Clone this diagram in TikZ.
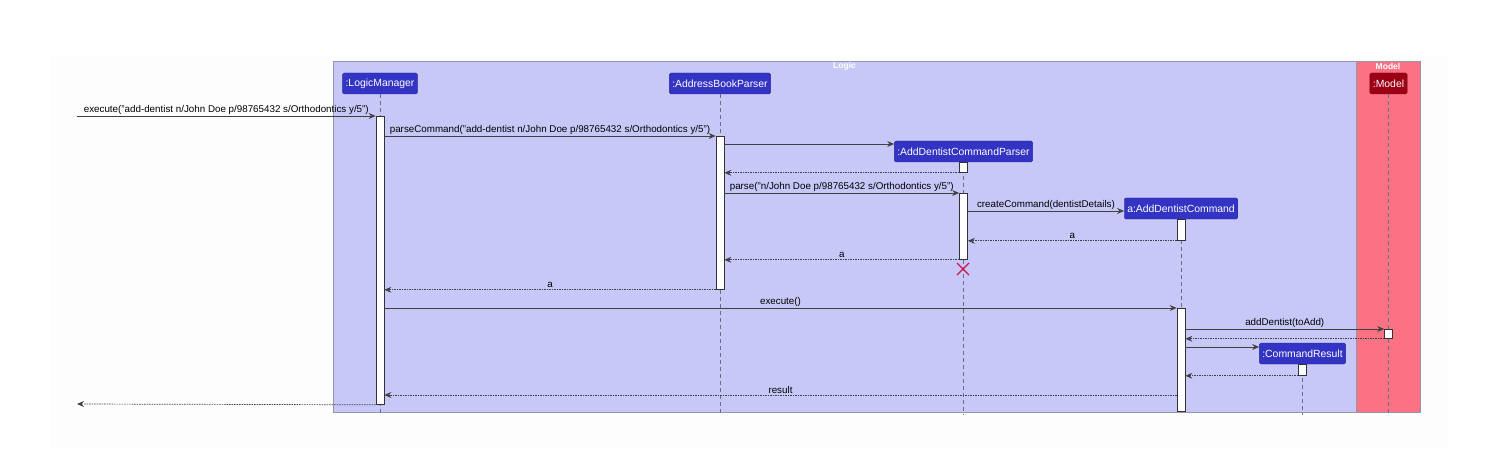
\documentclass[tikz,border=0pt]{standalone}
\usepackage{fontspec}
\setmainfont{Liberation Sans}
\usetikzlibrary{arrows.meta,positioning}

\definecolor{logicbg}{RGB}{200,200,248}
\definecolor{modelbg}{RGB}{250,114,132}
\definecolor{partblue}{RGB}{51,51,196}
\definecolor{partred}{RGB}{155,0,20}
\definecolor{framegray}{RGB}{150,150,165}
\definecolor{lifegray}{RGB}{110,110,130}
\definecolor{destroyred}{RGB}{200,20,80}

\begin{document}
\begin{tikzpicture}[x=1pt,y=-1pt,
    part/.style={fill=partblue,draw=partblue!80!black,rounded corners=1.5pt,text=white,
        font=\fontsize{10.4}{11}\selectfont,inner xsep=3pt,inner ysep=0pt,minimum height=21pt},
    actbar/.style={draw=black!80,fill=white,minimum width=8pt,inner sep=0pt,anchor=north,line width=0.8pt},
    lifeline/.style={draw=lifegray,dash pattern=on 4pt off 3pt,line width=0.5pt},
    call/.style={draw=black!75,-{Stealth[length=7pt,width=6pt,inset=2.5pt]},line width=0.7pt},
    reply/.style={call,dash pattern=on 1.5pt off 1pt},
    lbl/.style={font=\fontsize{9.8}{10}\selectfont,inner sep=1.5pt,above}]

    \useasboundingbox (0,0) rectangle (1501,449);
    \fill[black!0.7] (50,57) rectangle (1448,447);

    % boxes
    \draw[draw=framegray,fill=logicbg] (333,61) rectangle (1356,412);
    \draw[draw=framegray,fill=modelbg] (1356,61) rectangle (1420,412);
    \node[text=white,font=\bfseries\fontsize{8.5}{9}\selectfont] (logicTitle) at (844.5,66.5) {Logic};
    \node[text=white,font=\bfseries\fontsize{8.5}{9}\selectfont] (modelTitle) at (1388,66.5) {Model};

    % participants
    \node[part] (lm) at (380,83.5) {:LogicManager};
    \node[part] (abp) at (720,83.5) {:AddressBookParser};
    \node[part,fill=partred,draw=partred!80!black] (model) at (1388.5,83.5) {:Model};
    \node[part] (adcp) at (963.5,151.5) {:AddDentistCommandParser};
    \node[part] (adc) at (1181,208.5) {a:AddDentistCommand};
    \node[part] (cr) at (1302.5,353.5) {:CommandResult};

    \foreach \p in {lm,abp,model,adcp,adc,cr}
        \draw[lifeline] (\p.south) -- (\p.south |- 0,415);

    % activations
    \node[actbar,minimum height=288pt] (lmAct) at (380,116) {};
    \node[actbar,minimum height=153pt] (abpAct) at (720,136) {};
    \node[actbar,minimum height=10pt] (adcpAct1) at (963.5,162) {};
    \node[actbar,minimum height=66pt] (adcpAct2) at (963.5,193) {};
    \node[actbar,minimum height=21pt] (adcAct1) at (1181,219) {};
    \node[actbar,minimum height=103pt] (adcAct2) at (1181,308) {};
    \node[actbar,minimum height=9pt] (modelAct) at (1388.5,329) {};
    \node[actbar,minimum height=11pt] (crAct) at (1302.5,364) {};

    \coordinate (entry) at (77,116);
    \coordinate (exit) at (77,404);

    % messages
    \draw[call] (entry) -- node[lbl] {execute("add-dentist n/John Doe p/98765432 s/Orthodontics y/5")} (lmAct.north west);
    \draw[call] (lmAct.east |- 0,136) -- node[lbl] {parseCommand("add-dentist n/John Doe p/98765432 s/Orthodontics y/5")} (abpAct.north west);
    \draw[call] (abpAct.east |- 0,144) -- (adcp.west |- 0,144);
    \draw[reply] (adcpAct1.south west) -- (abpAct.east |- adcpAct1.south);
    \draw[call] (abpAct.east |- 0,193) -- node[lbl] {parse("n/John Doe p/98765432 s/Orthodontics y/5")} (adcpAct2.north west);
    \draw[call] (adcpAct2.east |- 0,211) -- node[lbl] {createCommand(dentistDetails)} (adc.west |- 0,211);
    \draw[reply] (adcAct1.south west) -- node[lbl] {a} (adcpAct2.east |- adcAct1.south);
    \draw[reply] (adcpAct2.south west) -- node[lbl] {a} (abpAct.east |- adcpAct2.south);
    \draw[reply] (abpAct.south west) -- node[lbl] {a} (lmAct.east |- abpAct.south);
    \draw[call] (lmAct.east |- 0,308) -- node[lbl] {execute()} (adcAct2.north west);
    \draw[call] (adcAct2.east |- 0,329) -- node[lbl] {addDentist(toAdd)} (modelAct.north west);
    \draw[reply] (modelAct.south west) -- (adcAct2.east |- modelAct.south);
    \draw[call] (adcAct2.east |- 0,347) -- (cr.west |- 0,347);
    \draw[reply] (crAct.south west) -- (adcAct2.east |- crAct.south);
    \draw[reply] (adcAct2.west |- 0,395) -- node[lbl] {result} (lmAct.east |- 0,395);
    \draw[reply] (lmAct.south west) -- (exit);

    % destroy
    \draw[destroyred,line width=1.2pt] (957,263) -- (969,275) (957,275) -- (969,263);
\end{tikzpicture}
\end{document}
